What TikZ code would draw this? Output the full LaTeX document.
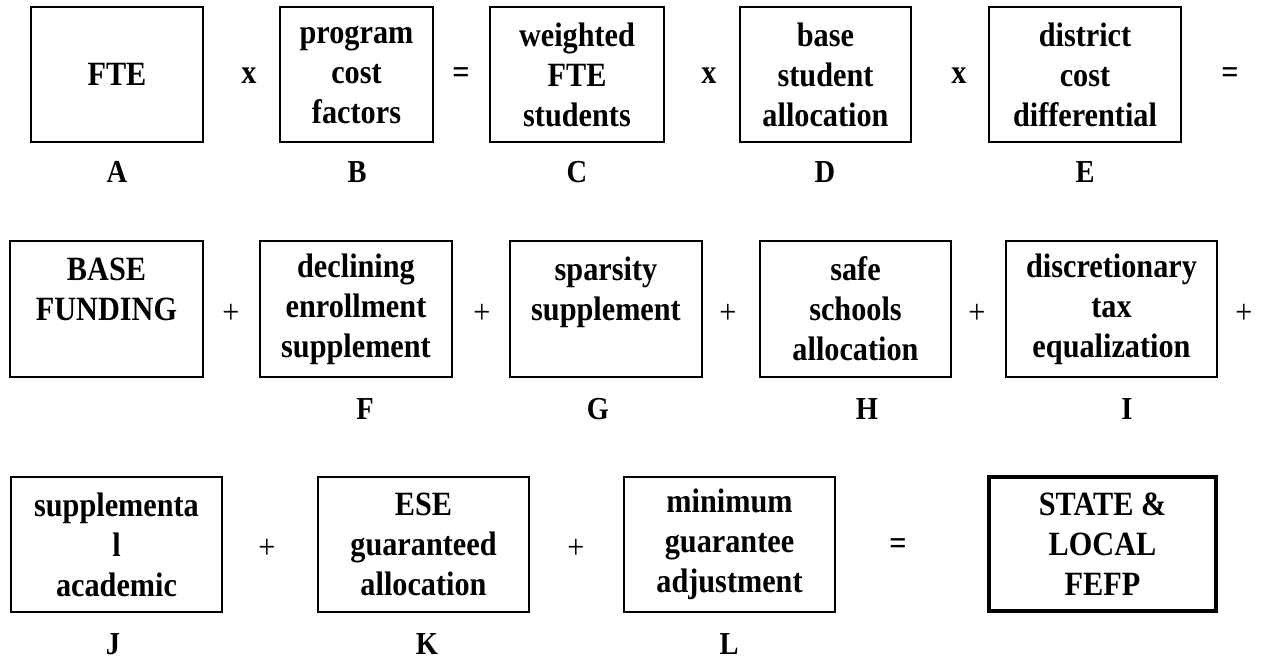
\documentclass[tikz,border=0pt]{standalone}
\usepackage{fontspec}
\setmainfont{Liberation Serif}[FakeStretch=0.89]
\newcommand\bxfont{\fontsize{34}{40}\selectfont\bfseries}
\newcommand\lbfont{\fontsize{32}{36}\selectfont\bfseries}
\newcommand\opfont{\fontsize{34}{38}\selectfont}
\begin{document}
\begin{tikzpicture}[x=1pt,y=-1pt,
  box/.style={draw, line width=1.6pt, inner sep=0pt, align=center, font=\bxfont},
  finalbox/.style={box, line width=4.5pt},
  lab/.style={font=\lbfont, inner sep=0pt, anchor=base},
  opr/.style={font=\opfont, inner sep=0pt},
  opb/.style={font=\opfont\bfseries, inner sep=0pt}]
\useasboundingbox (0,0) rectangle (1264,660);
% Row 1
\node[box, minimum width=172pt, minimum height=135pt] (A) at (117,74.5) {FTE};
\node[box, minimum width=153pt, minimum height=135pt] (B) at (356.5,74.5) {program\\cost\\factors};
\node[box, minimum width=174pt, minimum height=135pt] (C) at (577,74.5) {weighted\\FTE\\students};
\node[box, minimum width=171pt, minimum height=135pt] (D) at (825.5,74.5) {base\\student\\allocation};
\node[box, minimum width=192pt, minimum height=135pt] (E) at (1085,74.5) {district\\cost\\differential};
\node[opb] (o1) at (249,76) {x};
\node[opb] (o2) at (461,76) {=};
\node[opb] (o3) at (709,76) {x};
\node[opb] (o4) at (959,76) {x};
\node[opb] (o5) at (1230,76) {=};
\node[lab] (lA) at (117,183) {A};
\node[lab] (lB) at (357,183) {B};
\node[lab] (lC) at (577,183) {C};
\node[lab] (lD) at (825,183) {D};
\node[lab] (lE) at (1085,183) {E};
% Row 2
\node[box, minimum width=193pt, minimum height=136pt] (BF) at (106.5,309) {BASE\\FUNDING\\~};
\node[box, minimum width=192pt, minimum height=136pt] (F) at (356,309) {declining\\enrollment\\supplement};
\node[box, minimum width=192pt, minimum height=136pt] (G) at (606,309) {sparsity\\supplement\\~};
\node[box, minimum width=191pt, minimum height=136pt] (H) at (855.5,309) {safe\\schools\\allocation};
\node[box, minimum width=211pt, minimum height=136pt] (I) at (1111.5,309) {discretionary\\tax\\equalization};
\node[opr] (p1) at (231,314) {+};
\node[opr] (p2) at (482,314) {+};
\node[opr] (p3) at (728,314) {+};
\node[opr] (p4) at (977,314) {+};
\node[opr] (p5) at (1244,314) {+};
\node[lab] (lF) at (365,419) {F};
\node[lab] (lG) at (598,419) {G};
\node[lab] (lH) at (867,419) {H};
\node[lab] (lI) at (1127,419) {I};
% Row 3
\node[box, minimum width=211pt, minimum height=135pt] (J) at (116.5,544.5) {supplementa\\l\\academic};
\node[box, minimum width=211pt, minimum height=135pt] (K) at (423.5,544.5) {ESE\\guaranteed\\allocation};
\node[box, minimum width=211pt, minimum height=135pt] (L) at (729.5,544.5) {minimum\\guarantee\\adjustment};
\node[finalbox, minimum width=227pt, minimum height=134pt] (FE) at (1102.5,544) {STATE \&\\LOCAL\\FEFP};
\node[opr] (q1) at (267,549) {+};
\node[opr] (q2) at (576,549) {+};
\node[opb] (q3) at (898,547) {=};
\node[lab] (lJ) at (113,654) {J};
\node[lab] (lK) at (427,654) {K};
\node[lab] (lL) at (729,654) {L};
\end{tikzpicture}
\end{document}
